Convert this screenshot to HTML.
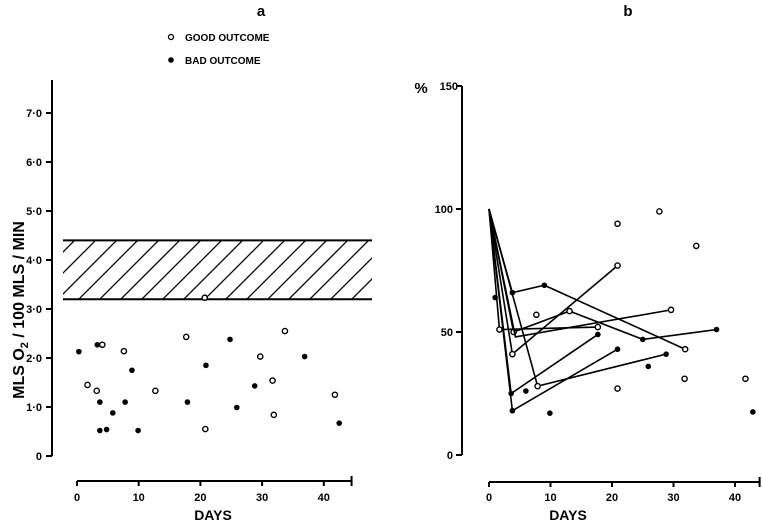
<!DOCTYPE html>
<html><head><meta charset="utf-8"><style>
body{margin:0;background:#fff;}
svg{display:block;font-family:"Liberation Sans",sans-serif;font-weight:bold;}
</style></head><body>
<svg id="chart" width="762" height="524" viewBox="0 0 762 524">
<defs><pattern id="hatch" patternUnits="userSpaceOnUse" width="21" height="21"><path d="M0,21 L21,0 M-5,5 L5,-5 M16,26 L26,16" stroke="#000" stroke-width="1.3"/></pattern></defs>
<text x="261" y="16" font-size="15" text-anchor="middle">a</text>
<text x="628" y="16" font-size="15" text-anchor="middle">b</text>
<circle cx="171" cy="37" r="2.5" fill="#fff" stroke="#000" stroke-width="1.3"/>
<text x="185" y="41" font-size="10">GOOD  OUTCOME</text>
<circle cx="171" cy="60" r="2.8" fill="#000"/>
<text x="185" y="64" font-size="10">BAD  OUTCOME</text>
<text transform="translate(24,310) rotate(-90)" font-size="16" text-anchor="middle">MLS O<tspan font-size="11" dy="4">2</tspan><tspan dy="-4"> / 100 MLS / MIN</tspan></text>
<text x="213" y="520" font-size="14" text-anchor="middle">DAYS</text>
<text x="568" y="520" font-size="14" text-anchor="middle">DAYS</text>
<text x="421" y="93" font-size="15" text-anchor="middle">%</text>
<g id="g"></g>
</svg>
<script>
// Panel a
const aTicksY=[0,1,2,3,4,5,6,7];
const aTickLabelsY=["0","1·0","2·0","3·0","4·0","5·0","6·0","7·0"];
const xTicks=[0,10,20,30,40];
const normalBand=[3.2,4.4];
const aBadDays=[0.3,3.3,3.7,3.7,4.8,5.8,7.8,8.9,9.9,17.9,20.9,24.8,25.9,28.8,36.9,42.5];
const aBadVals=[2.13,2.27,1.10,0.52,0.54,0.88,1.10,1.75,0.52,1.10,1.85,2.38,0.99,1.43,2.03,0.67];
const aGoodDays=[1.7,3.2,4.1,7.6,12.7,17.7,20.7,20.8,29.7,31.7,31.9,33.7,41.8];
const aGoodVals=[1.45,1.33,2.27,2.14,1.33,2.43,3.23,0.55,2.03,1.54,0.84,2.55,1.25];
// Panel b
const bTicksY=[0,50,100,150];
const bLines=[
 [[0,100,'n'],[3.8,66,'f'],[9,69,'f'],[31.9,43,'o']],
 [[0,100,'n'],[1.7,51,'o'],[17.7,52,'o']],
 [[0,100,'n'],[4.0,50,'o'],[13.1,58.5,'o'],[25,47,'f'],[37,51,'f']],
 [[0,100,'n'],[4.3,48,'n'],[29.6,59,'o']],
 [[0,100,'n'],[3.8,41,'o'],[20.9,77,'o']],
 [[0,100,'n'],[3.6,25,'f'],[17.7,49,'f']],
 [[0,100,'n'],[3.8,18,'f'],[20.9,43,'f']],
 [[0,100,'n'],[7.9,28,'o'],[28.8,41,'f']]
];
const bGoodDays=[20.9,27.7,33.7,7.7,20.9,31.8,41.7];
const bGoodVals=[94,99,85,57,27,31,31];
const bBadDays=[1.0,6.0,9.9,25.9,42.9];
const bBadVals=[64,26,17,36,17.5];

const NS="http://www.w3.org/2000/svg",g=document.getElementById('g');
function mk(t,a){const e=document.createElementNS(NS,t);for(const k in a)e.setAttribute(k,a[k]);g.appendChild(e);return e;}
const ax=d=>77+d*6.17, ay=v=>456-v*49;
const bx=d=>489+d*6.15, by=v=>455-v*2.46;
function dot(x,y,f,name){const e=mk('circle',{cx:x,cy:y,r:f?2.8:2.6,fill:f?'#000':'#fff',stroke:'#000','stroke-width':f?0:1.4});

}
// axes a
let e=mk('line',{x1:52,y1:80,x2:52,y2:456,stroke:'#000','stroke-width':2});


aTicksY.forEach((v,i)=>{mk('line',{x1:46,y1:ay(v),x2:52,y2:ay(v),stroke:'#000','stroke-width':2});
 const t=mk('text',{x:42,y:ay(v)+4,'font-size':11,'text-anchor':'end'});t.textContent=aTickLabelsY[i];
 
 });
e=mk('line',{x1:ax(0),y1:481,x2:ax(44.5),y2:481,stroke:'#000','stroke-width':2});


mk('line',{x1:ax(44.5),y1:476,x2:ax(44.5),y2:486,stroke:'#000','stroke-width':2});
xTicks.forEach(d=>{mk('line',{x1:ax(d),y1:481,x2:ax(d),y2:486,stroke:'#000','stroke-width':2});
 const t=mk('text',{x:ax(d),y:501,'font-size':11,'text-anchor':'middle'});t.textContent=d;
 
 });
// band
e=mk('rect',{x:63,y:ay(normalBand[1]),width:309,height:ay(normalBand[0])-ay(normalBand[1]),fill:'url(#hatch)'});


mk('line',{x1:63,y1:ay(normalBand[1]),x2:372,y2:ay(normalBand[1]),stroke:'#000','stroke-width':2});
mk('line',{x1:63,y1:ay(normalBand[0]),x2:372,y2:ay(normalBand[0]),stroke:'#000','stroke-width':2});
aBadDays.forEach((d,i)=>dot(ax(d),ay(aBadVals[i]),true,'bad-outcome-point-a'));
aGoodDays.forEach((d,i)=>dot(ax(d),ay(aGoodVals[i]),false,'good-outcome-point-a'));
// axes b
e=mk('line',{x1:462,y1:86,x2:462,y2:455,stroke:'#000','stroke-width':2});


bTicksY.forEach(v=>{mk('line',{x1:456,y1:by(v),x2:462,y2:by(v),stroke:'#000','stroke-width':2});
 const t=mk('text',{x:v==150?458:453,y:by(v)+4,'font-size':11,'text-anchor':'end'});t.textContent=v;
 
 });
e=mk('line',{x1:bx(0),y1:482,x2:bx(44),y2:482,stroke:'#000','stroke-width':2});


mk('line',{x1:bx(44),y1:477,x2:bx(44),y2:487,stroke:'#000','stroke-width':2});
xTicks.forEach(d=>{mk('line',{x1:bx(d),y1:482,x2:bx(d),y2:487,stroke:'#000','stroke-width':2});
 const t=mk('text',{x:bx(d),y:501,'font-size':11,'text-anchor':'middle'});t.textContent=d;
 
 });
bLines.forEach(L=>{const p=mk('polyline',{points:L.map(q=>bx(q[0])+','+by(q[1])).join(' '),fill:'none',stroke:'#000','stroke-width':1.6});
 
 
 L.forEach(q=>{if(q[2]!='n')dot(bx(q[0]),by(q[1]),q[2]=='f',q[2]=='f'?'bad-outcome-point-b':'good-outcome-point-b');});});
bGoodDays.forEach((d,i)=>dot(bx(d),by(bGoodVals[i]),false,'good-outcome-point-b'));
bBadDays.forEach((d,i)=>dot(bx(d),by(bBadVals[i]),true,'bad-outcome-point-b'));
</script>
</body></html>
